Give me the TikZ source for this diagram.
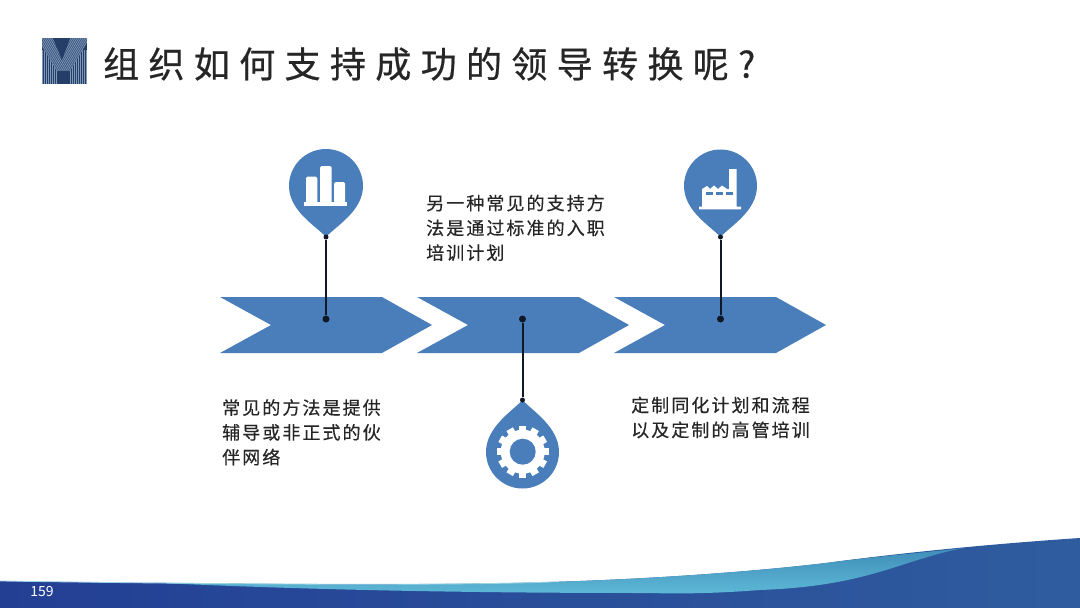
\documentclass[tikz,border=0pt]{standalone}
\usepackage{fontspec}
\setmainfont{Noto Sans CJK SC}
\newfontfamily\titlefont[LetterSpace=26,FakeBold=0.6]{Noto Sans CJK SC}
\newfontfamily\bodyfont[LetterSpace=11.5,FakeBold=0.4]{Noto Sans CJK SC}
\definecolor{pinblue}{HTML}{4A7EBB}
\definecolor{bandL}{HTML}{233F94}
\definecolor{bandR}{HTML}{2F5C9F}
\definecolor{swoosh}{HTML}{5DB8D6}
\definecolor{swooshdk}{HTML}{3F8DB8}
\definecolor{logobg}{HTML}{243E68}
\definecolor{logolt}{HTML}{7F97B8}
\definecolor{inkdark}{HTML}{101828}
\tikzset{
  x=1pt,y=-1pt,
  chev/.style={fill=pinblue,draw=none},
  pinshape/.style={fill=pinblue,draw=none},
  stem/.style={draw=inkdark,line width=2pt},
  dot/.style={circle,fill=inkdark,inner sep=0pt,minimum size=7pt},
  endpt/.style={circle,fill=inkdark,inner sep=0pt,minimum size=5pt},
  bodytxt/.style={align=left,anchor=north west,inner sep=0pt,font=\bodyfont\fontsize{18}{24.8}\selectfont,text=black!85},
}
\newcommand{\chevshape}[1]{%
  \fill[chev,shift={(#1,0)}] (0,297)--(162,297)--(212,325)--(162,353)--(0,353)--(51,325)--cycle;}
\begin{document}
\begin{tikzpicture}
\useasboundingbox (0,0) rectangle (1080,608);
\fill[white] (0,0) rectangle (1080,608);

% logo
\fill[logobg] (42,38) rectangle (87,84);
\begin{scope}
 \clip (42,38) rectangle (87,84);
 \foreach \i in {0,2,...,44}{\draw[logolt,line width=.6pt] (42.5+\i,50)--(42.5+\i,84);}
 \begin{scope}
  \clip (42,38)--(53,38)--(62,60)--(70,38)--(87,38)--(87,43)--(70,71)--(57,71)--(42,47)--cycle;
  \fill[logobg!70!logolt] (42,38) rectangle (87,84);
  \foreach \i in {-40,-38,...,60}{\draw[logolt,line width=.6pt] (42+\i,38)--(62+\i,72);}
 \end{scope}
 \fill[logobg] (53,38)--(70,38)--(62,60)--cycle;
 \fill[logobg] (57,71) rectangle (70,84);
\end{scope}

% title
\node[anchor=west,inner sep=0pt,font=\titlefont\fontsize{36}{40}\selectfont,text=black!85] (title) at (103,64) {组织如何支持成功的领导转换呢?};

% chevrons
\chevshape{220}
\chevshape{417}
\chevshape{614}

% pins
\fill[pinshape] (326,237) .. controls (316,226) and (289,211) .. (289,186) arc[start angle=180,end angle=360,radius=37] .. controls (363,211) and (336,226) .. (326,237) -- cycle;
\fill[pinshape] (720.5,237) .. controls (710.5,226) and (684,211) .. (684,186) arc[start angle=180,end angle=360,radius=36.5] .. controls (757,211) and (730.5,226) .. (720.5,237) -- cycle;
\fill[pinshape] (522.5,400) .. controls (512.5,411) and (486,427) .. (486,452) arc[start angle=180,end angle=0,radius=36.5] .. controls (559,427) and (532.5,411) .. (522.5,400) -- cycle;

% connectors
\node[endpt] (p1) at (326,237) {};
\node[dot] (q1) at (326,319) {};
\draw[stem] (p1)--(q1);
\node[endpt] (p3) at (720.5,237) {};
\node[dot] (q3) at (720.5,319) {};
\draw[stem] (p3)--(q3);
\node[endpt] (p2) at (522.5,400) {};
\node[dot] (q2) at (522.5,319) {};
\draw[stem] (p2)--(q2);

% bar chart icon
\fill[white,rounded corners=1.5pt] (306,203)--(306,176.7)--(317.3,176.7)--(317.3,203)--cycle;
\fill[white,rounded corners=1.5pt] (320,203)--(320,166)--(331.7,166)--(331.7,203)--cycle;
\fill[white,rounded corners=1.5pt] (334,203)--(334,182)--(345,182)--(345,203)--cycle;
\fill[white] (304,201.7) rectangle (347,205.7);

% factory icon
\fill[white] (699,209.3)--(699,206.7)--(702,206.7)--(702,189)--(707,186)--(710,189)--(714,185.5)--(718,189)--(722,185.5)--(727,189)--(729,189)--(729,169)--(736.7,169)--(736.7,206.7)--(741,206.7)--(741,209.3)--cycle;
\foreach \x in {706,716,726}{\fill[pinblue] (\x,192.3) rectangle (\x+7,195);}

% gear icon
\fill[white] (522.7,451.7) circle[radius=22];
\foreach \a in {0,30,...,330}{\fill[white,rotate around={\a:(522.7,451.7)}] (519,425.7) rectangle (526.4,433);}
\fill[pinblue] (522.7,451.7) circle[radius=13];

% texts
\node[bodytxt] (t1) at (222,399) {常见的方法是提供\\辅导或非正式的伙\\伴网络};
\node[bodytxt] (t2) at (426,194.5) {另一种常见的支持方\\法是通过标准的入职\\培训计划};
\node[bodytxt] (t3) at (631,396.5) {定制同化计划和流程\\以及定制的高管培训};

% footer band
\shade[left color=bandL,right color=bandR] (0,581) .. controls (200,584) and (450,586) .. (551,582) .. controls (650,579) and (750,572) .. (826,563) .. controls (900,553) and (990,544) .. (1080,538) -- (1080,608) -- (0,608) -- cycle;
\shade[top color=swooshdk,bottom color=swoosh] (150,582.5) .. controls (300,585) and (450,585) .. (551,582) .. controls (650,579) and (750,572) .. (826,563) .. controls (880,556) and (920,553) .. (964,548) .. controls (900,560) and (870,586) .. (760,590) .. controls (720,593) and (690,594) .. (647,593) .. controls (540,593) and (350,592) .. (150,582.5) -- cycle;
\draw[swoosh!60!white,line width=.8pt] (0,581) .. controls (200,584) and (450,586) .. (551,582);
\node[inner sep=0pt,font=\fontsize{14}{16}\selectfont,text=white] (pg) at (42,592) {159};
\end{tikzpicture}
\end{document}
